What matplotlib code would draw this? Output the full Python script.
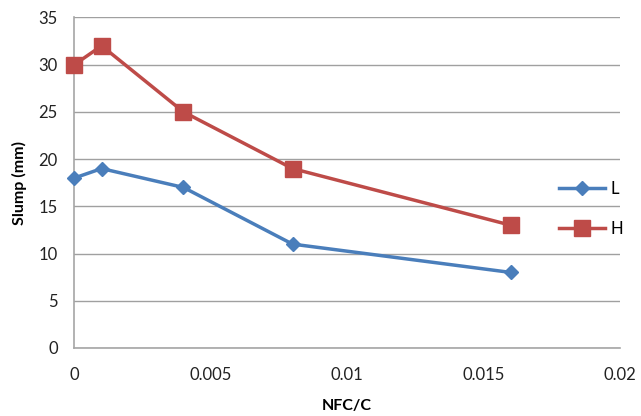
import matplotlib.pyplot as plt

# NFC/C ratio and slump values for the two series
nfc_c = [0, 0.001, 0.004, 0.008, 0.016]
slump_L = [18, 19, 17, 11, 8]
slump_H = [30, 32, 25, 19, 13]

x_ticks = [0, 0.005, 0.01, 0.015, 0.02]
x_labels = ["0", "0.005", "0.01", "0.015", "0.02"]
y_ticks = [0, 5, 10, 15, 20, 25, 30, 35]

plt.rcParams['font.family'] = ['Lato', 'DejaVu Sans']

fig = plt.figure(figsize=(6.41, 4.16), dpi=100)
ax = fig.add_axes([0.116, 0.1635, 0.851, 0.7945])

ax.plot(nfc_c, slump_L, color='#4A7EBB', lw=2.5, marker='D', ms=7.5,
        label='L', clip_on=False, zorder=3)
ax.plot(nfc_c, slump_H, color='#BE4B48', lw=2.5, marker='s', ms=11,
        label='H', clip_on=False, zorder=3)

ax.set_xlim(0, 0.02)
ax.set_ylim(0, 35)
ax.set_xticks(x_ticks)
ax.set_xticklabels(x_labels)
ax.set_yticks(y_ticks)
ax.tick_params(length=0, labelsize=12, colors='#222222')
ax.tick_params(axis='y', pad=12)
ax.tick_params(axis='x', pad=14)

ax.grid(axis='y', color='#A0A0A0', lw=1)
ax.set_axisbelow(True)
for side in ['top', 'right']:
    ax.spines[side].set_visible(False)
for side in ['left', 'bottom']:
    ax.spines[side].set_color('#A6A6A6')
    ax.spines[side].set_linewidth(1.2)

ax.set_xlabel('NFC/C', fontsize=11.5, fontweight='bold', labelpad=11)
ax.set_ylabel('Slump (mm)', fontsize=11.5, fontweight='bold', labelpad=8)

fig.legend(loc='center left', bbox_to_anchor=(0.848, 0.498), frameon=False,
           fontsize=12, handlelength=2.8, handletextpad=0.3,
           labelspacing=1.45)

fig.savefig('out.png', dpi=100)
